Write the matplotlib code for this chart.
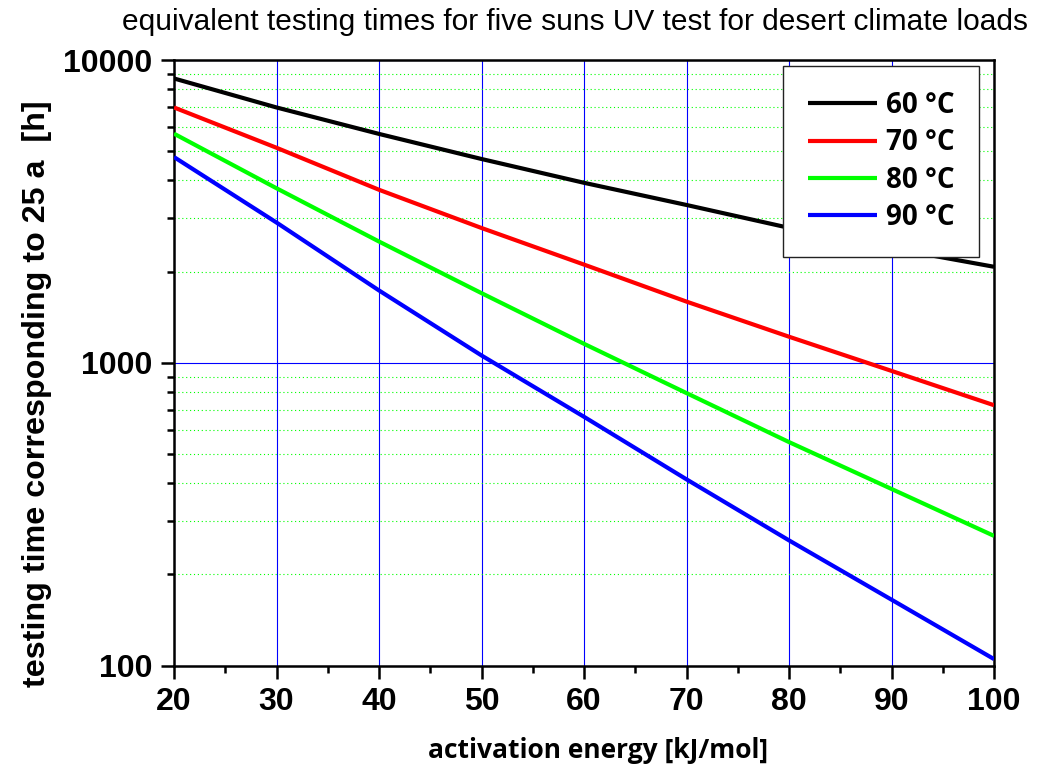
import matplotlib
matplotlib.use("Agg")
import matplotlib.pyplot as plt
from matplotlib.ticker import LogLocator, FixedLocator, NullFormatter, FixedFormatter

# ---- data ----
energy = [20, 30, 40, 50, 60, 70, 80, 90, 100]
t60 = [8690, 6970, 5700, 4710, 3930, 3320, 2790, 2390, 2075]
t70 = [6970, 5130, 3727, 2787, 2110, 1592, 1219, 940, 724]
t80 = [5710, 3770, 2514, 1698, 1155, 794, 547, 383, 268]
t90 = [4780, 2905, 1733, 1057, 663, 412, 259, 165, 105]
series_labels = ["60 °C", "70 °C", "80 °C", "90 °C"]
series_colors = ["#000000", "#ff0000", "#00ff00", "#0000ff"]
x_ticks = [20, 30, 40, 50, 60, 70, 80, 90, 100]
y_ticks = [100, 1000, 10000]
y_ticklabels = ["100", "1000", "10000"]
title = "equivalent testing times for five suns UV test for desert climate loads"
xlabel = "activation energy [kJ/mol]"
ylabel = "testing time corresponding to 25 a  [h]"

W, H = 1049, 772
fig = plt.figure(figsize=(W / 100, H / 100), dpi=100)
L, R, T, B = 174, 994, 60, 665.5
ax = fig.add_axes([L / W, 1 - B / H, (R - L) / W, (B - T) / H])

for ys, lab, col in zip([t60, t70, t80, t90], series_labels, series_colors):
    ax.plot(energy, ys, color=col, lw=3.0, label=lab, solid_capstyle="butt", zorder=3)

ax.set_yscale("log")
ax.set_xlim(20, 100)
ax.set_ylim(100, 10000)

ax.xaxis.set_major_locator(FixedLocator(x_ticks))
ax.xaxis.set_minor_locator(FixedLocator([25, 35, 45, 55, 65, 75, 85, 95]))
ax.yaxis.set_major_locator(FixedLocator(y_ticks))
ax.yaxis.set_major_formatter(FixedFormatter(y_ticklabels))
ax.yaxis.set_minor_locator(LogLocator(base=10, subs=range(2, 10)))
ax.yaxis.set_minor_formatter(NullFormatter())

for lbl in ax.get_xticklabels() + ax.get_yticklabels():
    lbl.set_fontfamily("Liberation Sans")
    lbl.set_fontweight("bold")
    lbl.set_fontsize(23)

ax.tick_params(axis="both", which="major", direction="out", length=9.5, width=1.8, color="black", pad=6)
ax.tick_params(axis="both", which="minor", direction="out", length=5, width=1.8, color="black")
ax.tick_params(top=False, right=False, which="both")

for s in ax.spines.values():
    s.set_linewidth(1.8)
    s.set_color("black")

ax.grid(True, axis="x", which="major", color="#0000ff", lw=0.8, zorder=1)
ax.grid(True, axis="y", which="major", color="#0000ff", lw=0.8, zorder=1)
ax.grid(True, axis="y", which="minor", color="#00ff00", lw=0.8, ls=(0, (1, 2.5)), zorder=1)
ax.set_axisbelow(True)

leg = ax.legend(loc="upper left", bbox_to_anchor=((783 - L) / (R - L), 1 - (66 - T) / (B - T)),
                frameon=True, fancybox=False, shadow=False,
                prop=dict(family="Open Sans", weight="bold", size=20),
                handlelength=2.5, handletextpad=0.3, labelspacing=0.3, borderpad=0.9,
                borderaxespad=0)
leg.get_frame().set_edgecolor("#222222")
leg.get_frame().set_linewidth(1.0)
leg.get_frame().set_alpha(1)

fig.text(575 / W, 1 - 22 / H, title, ha="center", va="center",
         family="Liberation Sans", size=21.5)
fig.text(598 / W, 1 - 750 / H, xlabel, ha="center", va="center",
         family="Open Sans", weight="bold", size=19)
fig.text(37 / W, 1 - 394 / H, ylabel, ha="center", va="center", rotation=90,
         family="Liberation Sans", weight="bold", size=23.2)

fig.savefig("out.png", dpi=100)
